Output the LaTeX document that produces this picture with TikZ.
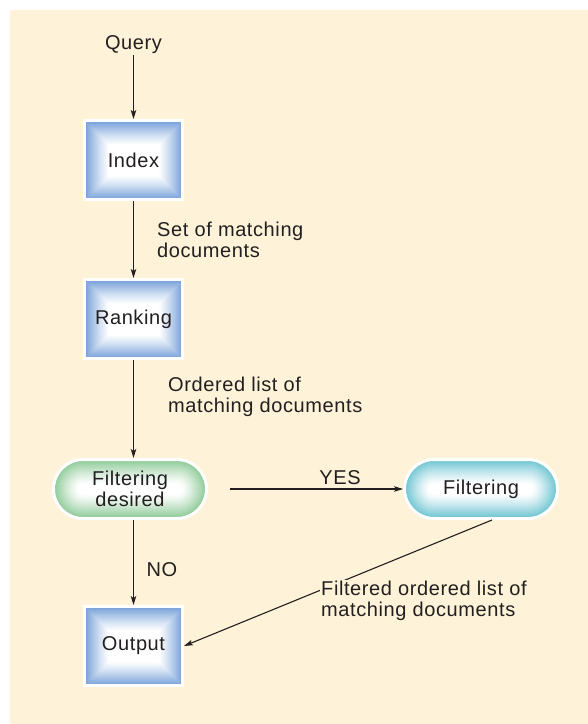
\documentclass[tikz,border=0pt]{standalone}
\usepackage{fontspec}
\setmainfont{Liberation Sans}[LetterSpace=3]
\usetikzlibrary{arrows.meta}
\definecolor{bg}{RGB}{254,243,216}
\definecolor{ink}{RGB}{35,31,32}
\definecolor{boxblue}{RGB}{118,160,216}
\definecolor{pillgreen}{RGB}{140,202,150}
\definecolor{pillcyan}{RGB}{108,196,210}
\tikzset{
  txt/.style={font=\fontsize{20}{21}\selectfont, text=ink, inner sep=1pt, align=left},
  arr/.style={draw=ink, line width=1.1pt, -{Stealth[length=9pt,width=5.5pt,inset=2pt]}},
  sqbox/.style={txt, align=center, minimum width=98pt, minimum height=79pt, inner sep=0pt,
    draw=white, line width=3pt,
    path picture={
      \foreach \i in {0,...,24}{
        \pgfmathsetmacro{\p}{100*(1-\i/24)^1.2}
        \fill[boxblue!\p!white] ([xshift=\i pt,yshift=-\i pt]path picture bounding box.north west)
          rectangle ([xshift=-\i pt,yshift=\i pt]path picture bounding box.south east);
      }
    }},
  pill/.style={txt, align=center, minimum width=153pt, minimum height=59pt, inner sep=0pt,
    rounded corners=29.5pt, draw=white, line width=3pt,
    path picture={
      \foreach \i in {0,...,24}{
        \pgfmathsetmacro{\p}{100*(1-\i/24)^1.2}
        \pgfmathsetmacro{\r}{max(29.5-\i,1)}
        \fill[#1!\p!white, rounded corners=\r pt] ([xshift=\i pt,yshift=-\i pt]path picture bounding box.north west)
          rectangle ([xshift=-\i pt,yshift=\i pt]path picture bounding box.south east);
      }
    }},
}
\begin{document}
\begin{tikzpicture}[x=1pt,y=-1pt]
\useasboundingbox (0,0) rectangle (588,724);
\fill[bg] (10,10) rectangle (588,724);

\node[txt] (query) at (133.5,45) {Query};
\node[sqbox] (index) at (133.5,160) {Index};
\node[sqbox] (ranking) at (133.5,319) {Ranking};
\node[pill=pillgreen] (fd) at (130,489) {Filtering\\desired};
\node[pill=pillcyan] (filt) at (481,489) {Filtering};
\node[sqbox] (output) at (133.5,646) {Output};

\node[txt, anchor=west] (lbl1) at (156,240) {Set of matching\\documents};
\node[txt, anchor=west] (lbl2) at (167,397) {Ordered list of\\matching documents};
\node[txt] (yes) at (340,478) {YES};
\node[txt] (no) at (162,570) {NO};

\draw[arr] (query) -- (index);
\draw[arr] (index) -- (ranking);
\draw[arr] (ranking.south -| query) -- (fd.north -| query);
\draw[arr, shorten <=22pt] (fd) -- (filt);
\draw[arr] (fd.south -| query) -- (output.north -| query);
\draw[arr] ([xshift=11pt]filt.south) -- (output.east);
\node[txt, anchor=west, fill=bg] (lbl3) at (320,601) {Filtered ordered list of\\matching documents};
\end{tikzpicture}
\end{document}
